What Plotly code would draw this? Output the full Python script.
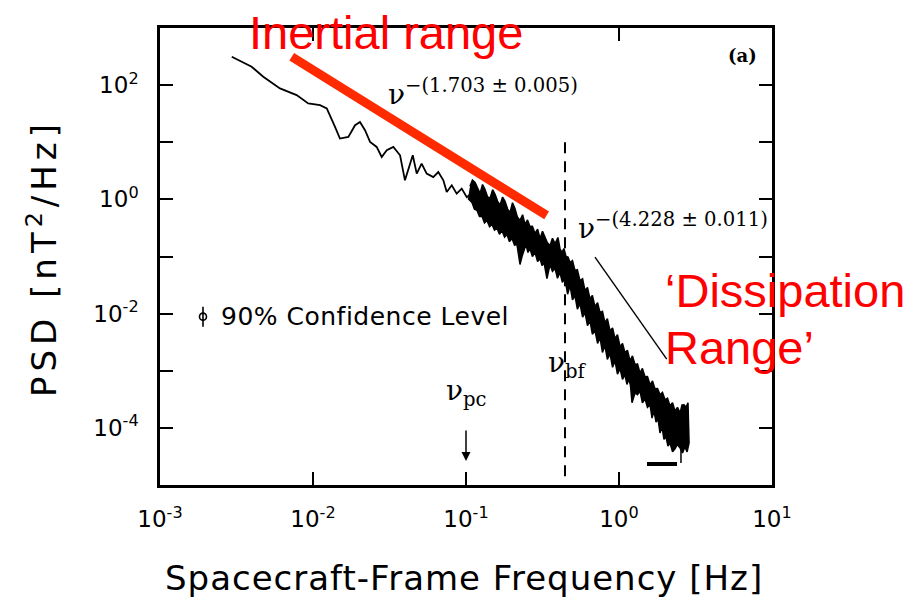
import numpy as np
import plotly.graph_objects as go

# ---- data (log10 of frequency [Hz] and PSD [nT^2/Hz]) ----
curve_log_freq = [-2.531, -2.401, -2.325, -2.216, -2.107, -2.031, -1.954, -1.910, -1.856, -1.824,
                  -1.769, -1.725, -1.693, -1.660, -1.627, -1.584, -1.551, -1.518, -1.475, -1.431,
                  -1.399, -1.366, -1.348, -1.322, -1.290, -1.257, -1.214, -1.181, -1.148, -1.126,
                  -1.093, -1.061, -1.028, -0.995, -0.952, -0.908]
curve_log_psd = [2.496, 2.321, 2.146, 1.942, 1.825, 1.679, 1.649, 1.591, 1.268, 1.065,
                 1.093, 1.298, 1.356, 1.211, 1.005, 0.918, 0.742, 0.860, 0.918, 0.772,
                 0.333, 0.596, 0.772, 0.451, 0.626, 0.451, 0.391, 0.479, 0.333, 0.128,
                 0.246, 0.100, 0.188, 0.040, 0.128, -0.018]

band_upper_log_freq = [-0.974, -0.958, -0.941, -0.925, -0.908, -0.892, -0.876, -0.860, -0.843, -0.826,
                       -0.810, -0.794, -0.778, -0.761, -0.745, -0.728, -0.712, -0.696, -0.680, -0.664,
                       -0.647, -0.630, -0.614, -0.598, -0.582, -0.566, -0.549, -0.532, -0.516, -0.500,
                       -0.484, -0.468, -0.451, -0.435, -0.418, -0.399, -0.386, -0.373, -0.360, -0.346,
                       -0.333, -0.320, -0.304, -0.288, -0.272, -0.255, -0.238, -0.222, -0.206, -0.190,
                       -0.174, -0.157, -0.140, -0.124, -0.108, -0.092, -0.076, -0.059, -0.042, -0.026,
                       -0.010, 0.007, 0.023, 0.039, 0.055, 0.072, 0.088, 0.105, 0.121, 0.137,
                       0.153, 0.170, 0.186, 0.203, 0.219, 0.235, 0.252, 0.268, 0.284, 0.301,
                       0.317, 0.333, 0.350, 0.366, 0.382, 0.399, 0.412, 0.425, 0.438, 0.451]
band_upper_log_psd = [0.228, 0.340, 0.298, 0.190, 0.105, 0.260, 0.175, 0.050, 0.018, 0.170,
                      0.088, -0.030, -0.105, 0.040, -0.035, -0.170, -0.228, -0.060, -0.158, -0.310,
                      -0.368, -0.270, -0.439, -0.360, -0.474, -0.470, -0.596, -0.520, -0.684, -0.560,
                      -0.649, -0.760, -0.807, -0.680, -0.772, -0.667, -0.860, -0.930, -0.860, -1.000,
                      -1.010, -1.105, -1.070, -1.246, -1.230, -1.421, -1.390, -1.596, -1.540, -1.737,
                      -1.680, -1.877, -1.810, -1.982, -1.960, -2.158, -2.090, -2.298, -2.250, -2.439,
                      -2.370, -2.579, -2.520, -2.684, -2.640, -2.825, -2.740, -2.895, -2.880, -3.035,
                      -2.960, -3.105, -3.100, -3.246, -3.180, -3.316, -3.310, -3.421, -3.380, -3.509,
                      -3.480, -3.614, -3.560, -3.702, -3.640, -3.737, -3.600, -3.596, -3.640, -3.561]

band_lower_log_freq = [0.458, 0.445, 0.431, 0.415, 0.399, 0.382, 0.366, 0.350, 0.333, 0.320,
                       0.307, 0.294, 0.281, 0.268, 0.255, 0.242, 0.229, 0.216, 0.203, 0.186,
                       0.170, 0.153, 0.137, 0.121, 0.105, 0.085, 0.075, 0.065, 0.052, 0.039,
                       0.023, 0.007, -0.010, -0.026, -0.042, -0.059, -0.076, -0.092, -0.108, -0.124,
                       -0.140, -0.157, -0.174, -0.190, -0.206, -0.222, -0.238, -0.255, -0.272, -0.288,
                       -0.304, -0.320, -0.336, -0.353, -0.370, -0.386, -0.402, -0.418, -0.435, -0.451,
                       -0.471, -0.490, -0.503, -0.516, -0.532, -0.549, -0.566, -0.582, -0.595, -0.608,
                       -0.634, -0.647, -0.667, -0.683, -0.699, -0.716, -0.732, -0.748, -0.765, -0.781,
                       -0.797, -0.814, -0.830, -0.846, -0.863, -0.879, -0.895, -0.912, -0.928, -0.945,
                       -0.961, -0.987]
band_lower_log_psd = [-4.263, -4.420, -4.333, -4.440, -4.351, -4.290, -4.368, -4.420, -4.263, -4.320,
                      -4.158, -4.200, -3.982, -4.090, -3.842, -3.900, -3.702, -3.830, -3.596, -3.640,
                      -3.491, -3.560, -3.351, -3.420, -3.386, -3.561, -3.260, -3.140, -3.240, -3.070,
                      -3.150, -2.965, -3.060, -2.825, -2.940, -2.702, -2.800, -2.561, -2.680, -2.421,
                      -2.520, -2.298, -2.360, -2.123, -2.210, -1.982, -2.060, -1.825, -1.920, -1.684,
                      -1.760, -1.509, -1.660, -1.386, -1.450, -1.281, -1.380, -1.211, -1.260, -1.140,
                      -1.386, -1.105, -1.160, -1.035, -1.090, -0.930, -1.000, -0.860, -0.930, -0.789,
                      -1.000, -1.140, -0.789, -0.800, -0.684, -0.740, -0.614, -0.660, -0.544, -0.610,
                      -0.509, -0.540, -0.439, -0.480, -0.368, -0.410, -0.298, -0.300, -0.193, -0.170,
                      -0.053, 0.018]

tail_log_freq = [0.405, 0.405]
tail_log_psd = [-4.316, -4.614]
floor_log_freq = [0.183, 0.379]
floor_log_psd = [-4.632, -4.632]

inertial_fit_log_freq = [-2.139, -0.473]
inertial_fit_log_psd = [2.496, -0.281]
dissip_fit_log_freq = [-0.157, 0.312]
dissip_fit_log_psd = [-1.012, -2.795]

break_log_freq = -0.353
break_log_psd = [1.0, -4.895]
pc_log_freq = -1.0
pc_arrow_log_psd = -4.579

conf_log_freq = -2.719
conf_log_psd = -2.053
conf_half_width = 0.175

x_tick_vals = [1e-3, 1e-2, 1e-1, 1e0, 1e1]
x_tick_text = ["10<sup>-3</sup>", "10<sup>-2</sup>", "10<sup>-1</sup>", "10<sup>0</sup>", "10<sup>1</sup>"]
y_tick_vals = [1e-4, 1e-3, 1e-2, 1e-1, 1e0, 1e1, 1e2]
y_tick_text = ["10<sup>-4</sup>", "", "10<sup>-2</sup>", "", "10<sup>0</sup>", "", "10<sup>2</sup>"]


def p(a):
    return 10 ** np.asarray(a, dtype=float)


fig = go.Figure()

fig.add_trace(go.Scatter(x=p(curve_log_freq), y=p(curve_log_psd), mode="lines",
                         line=dict(color="black", width=1.8), hoverinfo="skip"))
band_x = np.concatenate([p(band_upper_log_freq), p(band_lower_log_freq)])
band_y = np.concatenate([p(band_upper_log_psd), p(band_lower_log_psd)])
fig.add_trace(go.Scatter(x=band_x, y=band_y, mode="lines", fill="toself", fillcolor="black",
                         line=dict(color="black", width=1.5), hoverinfo="skip"))
fig.add_trace(go.Scatter(x=p(tail_log_freq), y=p(tail_log_psd), mode="lines",
                         line=dict(color="black", width=1.5), hoverinfo="skip"))
fig.add_trace(go.Scatter(x=p(floor_log_freq), y=p(floor_log_psd), mode="lines",
                         line=dict(color="black", width=4), hoverinfo="skip"))
fig.add_trace(go.Scatter(x=p(inertial_fit_log_freq), y=p(inertial_fit_log_psd), mode="lines",
                         line=dict(color="#ff2a00", width=9), hoverinfo="skip"))
fig.add_trace(go.Scatter(x=p(dissip_fit_log_freq), y=p(dissip_fit_log_psd), mode="lines",
                         line=dict(color="black", width=1.4), hoverinfo="skip"))
fig.add_trace(go.Scatter(x=p([break_log_freq, break_log_freq]), y=p(break_log_psd), mode="lines",
                         line=dict(color="black", width=2, dash="11px,8px"), hoverinfo="skip"))
yc = 10 ** conf_log_psd
fig.add_trace(go.Scatter(x=[10 ** conf_log_freq], y=[yc], mode="markers",
                         marker=dict(symbol="circle-open", size=7, color="black", line=dict(width=1.6)),
                         error_y=dict(type="data", symmetric=False,
                                      array=[10 ** (conf_log_psd + conf_half_width) - yc],
                                      arrayminus=[yc - 10 ** (conf_log_psd - conf_half_width)],
                                      color="black", thickness=1.6, width=0),
                         hoverinfo="skip"))

axis_common = dict(type="log", showgrid=False, zeroline=False, showline=True, linecolor="black",
                   linewidth=2.5, mirror="ticks", ticks="inside", ticklen=13, tickwidth=2.2,
                   tickcolor="black", tickfont=dict(family="DejaVu Sans", size=23, color="black"))

fig.update_xaxes(range=[-3, 1], tickvals=x_tick_vals, ticktext=x_tick_text,
                 ticklabelstandoff=12, **axis_common)
fig.update_yaxes(range=[-5, 3], tickvals=y_tick_vals, ticktext=y_tick_text,
                 ticklabelstandoff=14, **axis_common)


def px(xp):
    return (xp - 160) / 612


def py(yp):
    return (485 - yp) / 457


ann = []
ann.append(dict(xref="paper", yref="paper", x=px(464), y=py(578),
                text='<span style="letter-spacing:1px">Spacecraft-Frame Frequency [Hz]</span>',
                showarrow=False, font=dict(family="DejaVu Sans", size=34, color="black"),
                xanchor="center", yanchor="middle"))
ann.append(dict(xref="paper", yref="paper", x=px(42), y=py(258),
                text='<span style="letter-spacing:5px">PSD [nT<sup>2</sup>/Hz]</span>',
                showarrow=False, textangle=-90,
                font=dict(family="DejaVu Sans", size=34, color="black"),
                xanchor="center", yanchor="middle"))
ann.append(dict(xref="paper", yref="paper", x=px(386), y=py(92),
                text="ν<sup>−(1.703 ± 0.005)</sup>", showarrow=False,
                font=dict(family="DejaVu Serif", size=28, color="black"),
                xanchor="left", yanchor="middle"))
ann.append(dict(xref="paper", yref="paper", x=px(576), y=py(226),
                text="ν<sup>−(4.228 ± 0.011)</sup>", showarrow=False,
                font=dict(family="DejaVu Serif", size=28, color="black"),
                xanchor="left", yanchor="middle"))
ann.append(dict(xref="paper", yref="paper", x=px(742), y=py(55),
                text="<b>(a)</b>", showarrow=False,
                font=dict(family="DejaVu Serif", size=18, color="black"),
                xanchor="center", yanchor="middle"))
ann.append(dict(xref="paper", yref="paper", x=px(466), y=py(393),
                text="ν<sub>pc</sub>", showarrow=False,
                font=dict(family="DejaVu Serif", size=28, color="black"),
                xanchor="center", yanchor="middle"))
ann.append(dict(xref="paper", yref="paper", x=px(567), y=py(364),
                text="ν<sub>bf</sub>", showarrow=False,
                font=dict(family="DejaVu Serif", size=28, color="black"),
                xanchor="center", yanchor="middle"))
ann.append(dict(xref="paper", yref="paper", x=px(219), y=py(316),
                text='<span style="letter-spacing:0.5px">90% Confidence Level</span>',
                showarrow=False, font=dict(family="DejaVu Sans", size=25, color="black"),
                xanchor="left", yanchor="middle"))
ann.append(dict(x=pc_log_freq, y=pc_arrow_log_psd, xref="x", yref="y", text="",
                showarrow=True, arrowhead=2, arrowsize=1.2, arrowwidth=1.5, arrowcolor="black",
                ax=0, ay=-32))
ann.append(dict(xref="paper", yref="paper", x=px(386), y=py(33),
                text="Inertial range", showarrow=False,
                font=dict(family="Liberation Sans", size=47, color="#ff0000"),
                xanchor="center", yanchor="middle"))
ann.append(dict(xref="paper", yref="paper", x=px(663), y=py(290),
                text="‘Dissipation", showarrow=False,
                font=dict(family="Liberation Sans", size=47, color="#ff0000"),
                xanchor="left", yanchor="middle"))
ann.append(dict(xref="paper", yref="paper", x=px(663), y=py(347),
                text="Range’", showarrow=False,
                font=dict(family="Liberation Sans", size=47, color="#ff0000"),
                xanchor="left", yanchor="middle"))

# the page body adds an 8 px offset, so the figure is 8 px smaller than the window
fig.update_layout(width=903, height=590, margin=dict(l=152, r=139, t=20, b=113),
                  paper_bgcolor="white", plot_bgcolor="white", showlegend=False,
                  annotations=ann)

fig.write_html("out.html")
